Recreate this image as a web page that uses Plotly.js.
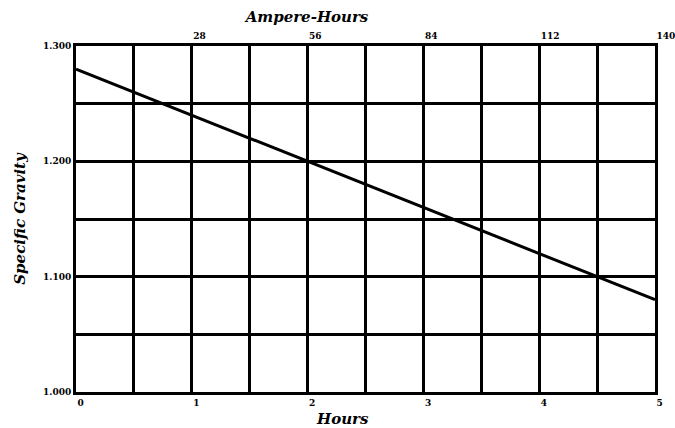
<!DOCTYPE html>
<html>
<head>
<meta charset="utf-8">
<script src="https://cdn.plot.ly/plotly-3.0.1.min.js"></script>
<style>html,body{margin:0;padding:0;background:#fff;}#chart{width:675px;height:428px;}</style>
</head>
<body>
<div id="chart"></div>
<script>
const hours = [0, 1, 2, 3, 4, 5];
const specificGravity = [1.280, 1.240, 1.200, 1.160, 1.120, 1.080];
const ampereHourTicks = [28, 56, 84, 112, 140];
const gravityTicks = [1.000, 1.100, 1.200, 1.300];

const tickFont = {family: 'DejaVu Serif', size: 9, color: '#000', weight: 'bold'};
const titleFont = {family: 'DejaVu Serif', size: 15, color: '#000', style: 'italic', weight: 'bold'};

const data = [
  {x: hours, y: specificGravity, type: 'scatter', mode: 'lines',
   line: {color: '#000', width: 3}, showlegend: false, hoverinfo: 'skip'},
  {x: [0, 140], y: [1.0, 1.0], xaxis: 'x2', yaxis: 'y', type: 'scatter', mode: 'lines',
   line: {width: 0}, showlegend: false, hoverinfo: 'skip'}
];

const layout = {
  width: 675, height: 428,
  margin: {l: 76, r: 20, t: 46, b: 36},
  paper_bgcolor: '#fff', plot_bgcolor: '#fff',
  title: {text: 'Ampere-Hours', font: titleFont, x: 307 / 675, xanchor: 'center', y: 0.96, yanchor: 'middle'},
  xaxis: {
    range: [0, 5], tickvals: hours, ticktext: hours.map(String),
    showgrid: true, gridcolor: '#000', gridwidth: 3,
    minor: {dtick: 0.5, showgrid: true, gridcolor: '#000', gridwidth: 3},
    showline: true, linecolor: '#000', linewidth: 3,
    ticks: '', ticklabelposition: 'outside right', ticklabeloverflow: 'allow', tickfont: tickFont,
    zeroline: false
  },
  xaxis2: {
    overlaying: 'x', side: 'top', range: [0, 140],
    tickvals: ampereHourTicks, ticktext: ampereHourTicks.map(String),
    showgrid: false, showline: true, linecolor: '#000', linewidth: 3,
    ticks: '', ticklabelposition: 'outside right', ticklabeloverflow: 'allow', tickfont: tickFont, zeroline: false
  },
  yaxis: {
    range: [1.0, 1.3], tickvals: gravityTicks, tickformat: '.3f',
    showgrid: true, gridcolor: '#000', gridwidth: 3,
    minor: {dtick: 0.05, showgrid: true, gridcolor: '#000', gridwidth: 3},
    showline: true, linecolor: '#000', linewidth: 3, mirror: true,
    ticks: '', tickfont: tickFont, zeroline: false,
    title: {text: 'Specific Gravity', font: titleFont, standoff: 14}
  },
  annotations: [
    {text: 'Hours', font: titleFont, xref: 'paper', yref: 'paper',
     x: (342 - 76) / 579, y: -0.045, xanchor: 'center', yanchor: 'top', showarrow: false}
  ]
};

Plotly.newPlot('chart', data, layout, {staticPlot: true, displayModeBar: false});
</script>
</body>
</html>
